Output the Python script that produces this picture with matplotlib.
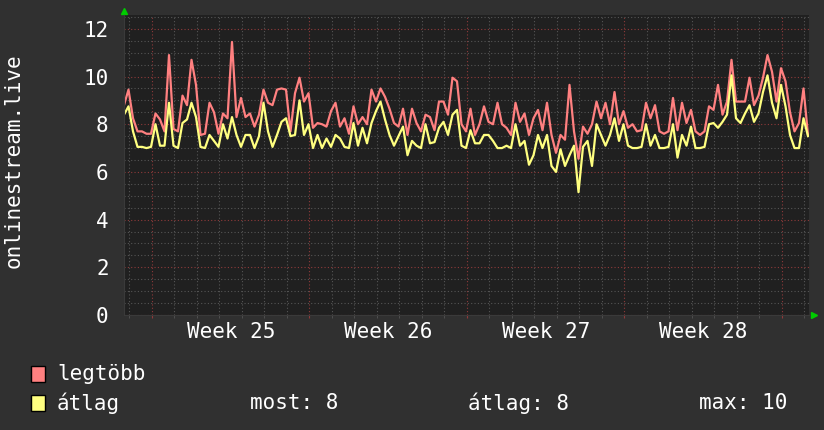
import numpy as np
import matplotlib.pyplot as plt
from matplotlib.patches import Rectangle
from matplotlib.ticker import MultipleLocator, FixedLocator

# time axis: days counted from the start of week 25, one sample every 4.8 h
first_day = -1.244
sample_days = 0.2

week_ticks = [3.5, 10.5, 17.5, 24.5]
week_labels = ["Week 25", "Week 26", "Week 27", "Week 28"]

legtobb = [
    8.8, 9.45, 8.25, 7.7, 7.7, 7.6, 7.6, 8.45, 8.2, 7.7,
    10.9, 7.8, 7.7, 9.2, 8.8, 10.7, 9.65, 7.55, 7.6, 8.9,
    8.5, 7.6, 8.45, 8.25, 11.45, 8.3, 9.1, 8.3, 8.45, 7.9,
    8.4, 9.45, 8.9, 8.8, 9.45, 9.5, 9.45, 7.7, 9.3, 9.95,
    8.95, 9.3, 7.85, 8.05, 8.0, 7.9, 8.55, 8.9, 7.9, 8.25,
    7.6, 8.75, 8.0, 8.3, 8.0, 9.45, 8.95, 9.5, 9.15, 8.65,
    8.05, 7.9, 8.65, 7.55, 8.65, 8.05, 7.7, 8.4, 8.3, 7.75,
    8.95, 8.95, 8.4, 9.95, 9.8, 8.0, 7.7, 8.65, 7.55, 8.0,
    8.75, 8.1, 8.0, 8.9, 8.0, 7.85, 7.55, 8.9, 8.1, 8.45,
    7.55, 8.25, 8.6, 7.75, 8.9, 7.55, 6.8, 7.55, 7.35, 9.65,
    7.7, 6.55, 7.9, 7.6, 8.0, 8.95, 8.25, 8.9, 8.0, 9.35,
    8.0, 8.55, 7.85, 8.0, 7.7, 7.75, 8.9, 8.25, 8.8, 7.7,
    7.6, 7.7, 9.1, 7.75, 8.9, 8.05, 8.6, 7.7, 7.55, 7.7,
    8.75, 8.6, 9.65, 8.4, 8.95, 10.7, 8.95, 8.95, 8.95, 9.95,
    8.8, 9.2, 9.95, 10.9, 10.2, 8.95, 10.35, 9.8, 8.5, 7.7,
    8.05, 9.5, 7.55,
]

atlag = [
    8.4, 8.75, 7.7, 7.05, 7.05, 7.0, 7.05, 8.0, 7.1, 7.1,
    8.9, 7.1, 7.0, 8.05, 8.2, 8.9, 8.3, 7.05, 7.0, 7.55,
    7.3, 7.05, 8.0, 7.4, 8.3, 7.55, 7.05, 7.55, 7.55, 7.0,
    7.5, 8.9, 7.7, 7.05, 7.55, 8.1, 8.25, 7.5, 7.55, 9.0,
    7.55, 8.0, 7.0, 7.55, 7.0, 7.4, 7.05, 7.55, 7.4, 7.05,
    7.0, 8.05, 7.1, 7.85, 7.2, 8.05, 8.55, 8.95, 8.2, 7.55,
    7.1, 7.5, 7.9, 6.7, 7.3, 7.1, 7.0, 8.0, 7.2, 7.25,
    7.85, 8.1, 7.55, 8.4, 8.6, 7.1, 7.0, 7.75, 7.2, 7.2,
    7.55, 7.55, 7.3, 7.0, 7.0, 7.1, 7.0, 8.0, 7.1, 7.3,
    6.3, 6.7, 7.55, 7.0, 7.55, 6.25, 6.0, 6.95, 6.25, 6.7,
    7.1, 5.15, 7.05, 7.3, 6.25, 8.0, 7.55, 7.1, 7.55, 8.25,
    7.3, 8.0, 7.1, 7.0, 7.0, 7.05, 8.0, 7.1, 7.55, 7.0,
    7.0, 7.05, 8.0, 6.6, 7.55, 7.1, 7.9, 7.0, 7.0, 7.05,
    8.0, 8.05, 7.85, 8.1, 8.4, 10.05, 8.25, 8.05, 8.45, 8.8,
    8.1, 8.45, 9.35, 10.05, 8.9, 8.25, 9.65, 8.75, 7.55, 7.0,
    7.0, 8.25, 7.5,
]

stats = [("most", 8), ("átlag", 8), ("max", 10)]

BG = "#303030"
PLOT_BG = "#202020"
RED = "#ff8080"
YELLOW = "#ffff80"
FONT = "DejaVu Sans Mono"
FS = 15

days = first_day + sample_days * np.arange(len(legtobb))

fig = plt.figure(figsize=(8.24, 4.30), dpi=100, facecolor=BG)
ax = fig.add_axes([124 / 824, 1 - 315 / 430, 685 / 824, 300 / 430])
ax.set_facecolor(PLOT_BG)

ax.plot(days, legtobb, color=RED, lw=1.6)
ax.plot(days, atlag, color=YELLOW, lw=1.6)

ax.set_xlim(first_day, 29.2)
ax.set_ylim(0, 12.58)

# grid: minor grey dots, major red dots
ax.xaxis.set_minor_locator(MultipleLocator(1))
ax.xaxis.set_major_locator(MultipleLocator(7))
ax.yaxis.set_minor_locator(MultipleLocator(0.5))
ax.yaxis.set_major_locator(MultipleLocator(2))
ax.grid(which="minor", color="#555555", lw=0.8, ls=(0, (1, 2)))
ax.grid(which="major", color="#8f3a3a", lw=0.8, ls=(0, (1, 2)))
ax.set_axisbelow(True)

ax.tick_params(which="both", axis="x", length=2, color="#8f3a3a", labelbottom=False)
ax.tick_params(which="minor", axis="x", color="#555555")
ax.tick_params(which="both", axis="y", length=0, pad=11,
               labelcolor="white", labelsize=FS)
for lab in ax.get_yticklabels():
    lab.set_family(FONT)

# week labels sit between the week boundaries
sec = ax.secondary_xaxis("bottom")
sec.xaxis.set_major_locator(FixedLocator(week_ticks))
sec.set_xticklabels(week_labels, family=FONT, fontsize=FS, color="white")
sec.tick_params(length=0, pad=5)
sec.spines["bottom"].set_visible(False)

for s in ["top", "right"]:
    ax.spines[s].set_visible(False)
ax.spines["left"].set_color("#3a3a3a")
ax.spines["bottom"].set_color("#3a3a3a")

# green axis arrows
ax.plot([0], [1.015], marker="^", color="#00cc00", ms=4, transform=ax.transAxes, clip_on=False)
ax.plot([1.007], [0], marker=">", color="#00cc00", ms=4, transform=ax.transAxes, clip_on=False)

fig.text(14 / 824, 1 - 161 / 430, "onlinestream.live", rotation=90, ha="center", va="center",
         family=FONT, fontsize=FS, color="white")

# legend
for row, (name, col) in enumerate([("legtöbb", RED), ("átlag", YELLOW)]):
    y = 1 - (374 + row * 29) / 430
    fig.add_artist(Rectangle((31 / 824, y - 8 / 430), 14 / 824, 16 / 430, transform=fig.transFigure,
                             facecolor=col, edgecolor="black", lw=1))
    fig.text(57 / 824, y, name, ha="left", va="center", family=FONT, fontsize=FS, color="white")

for (label, val), xpos in zip(stats, [250, 468, 699]):
    fig.text(xpos / 824, 1 - 403 / 430, f"{label}: {val}", ha="left", va="center",
             family=FONT, fontsize=FS, color="white")

fig.savefig("out.png", dpi=100, facecolor=BG)
